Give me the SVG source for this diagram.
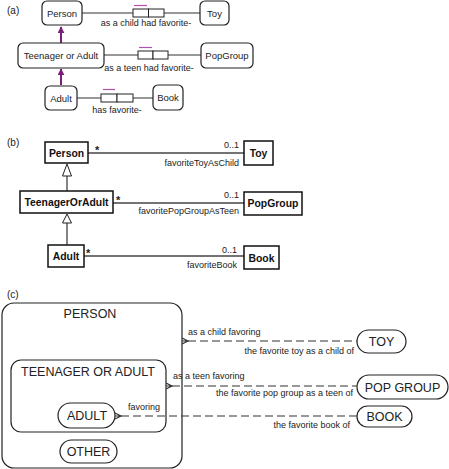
<svg xmlns="http://www.w3.org/2000/svg" width="449" height="469" viewBox="0 0 449 469">
<style>
text{font-family:"Liberation Sans",Arial,sans-serif;fill:#222}
.t9{font-size:9px}
.t95{font-size:9.5px}
.star{font-size:11px;font-weight:bold;fill:#222}
.b{font-size:10.4px;font-weight:bold;fill:#111}
.c{font-size:12.5px;fill:#222}
.ent{fill:#fff;stroke:#222;stroke-width:1.2}
.uml{fill:#fff;stroke:#111;stroke-width:1.5}
.role{fill:#fff;stroke:#222;stroke-width:1}
.ln{stroke:#333;stroke-width:1.2;fill:none}
.as{stroke:#444;stroke-width:1.6;fill:none}
.dash{stroke:#333;stroke-width:1.2;fill:none;stroke-dasharray:8 4}
.pur{stroke:#7a1f7a;stroke-width:2;fill:none}
.bar{stroke:#b050b0;stroke-width:1.2}
.mid{text-anchor:middle}
.end{text-anchor:end}
</style>
<defs>
<marker id="pa" viewBox="0 0 10 10" refX="9" refY="5" markerWidth="3.5" markerHeight="3.5" orient="auto"><path d="M0,0 L10,5 L0,10 z" fill="#7a1f7a"/></marker>
</defs>

<!-- (a) -->
<text x="7" y="14" style="font-size:10px">(a)</text>
<g id="connectors-a">
<path class="ln" d="M82,13 H133 M164,13 H200"/>
<path class="ln" d="M104,55 H138 M168,55 H201"/>
<path class="ln" d="M77,98 H101 M133,98 H153"/>
<path class="pur" d="M61,43 V27" marker-end="url(#pa)"/>
<path class="pur" d="M61,85 V69" marker-end="url(#pa)"/>
<rect class="role" x="133" y="9" width="15.5" height="8"/><rect class="role" x="148.5" y="9" width="15.5" height="8"/>
<line class="bar" x1="134" y1="5.5" x2="147" y2="5.5"/>
<text class="t9 mid" x="146" y="26">as a child had favorite-</text>
<rect class="role" x="138" y="51" width="15" height="8"/><rect class="role" x="153" y="51" width="15" height="8"/>
<line class="bar" x1="139" y1="47.5" x2="152" y2="47.5"/>
<text class="t9 mid" x="149" y="71">as a teen had favorite-</text>
<rect class="role" x="101" y="94" width="16" height="8"/><rect class="role" x="117" y="94" width="16" height="8"/>
<line class="bar" x1="103" y1="89.5" x2="115" y2="89.5"/>
<text class="t9 mid" x="117" y="113">has favorite-</text>
</g>
<g id="a-person"><rect class="ent" x="42" y="1" width="40" height="24" rx="5"/><text class="t95 mid" x="62" y="16.5">Person</text></g>
<g id="a-toy"><rect class="ent" x="200" y="1" width="29" height="24" rx="5"/><text class="t95 mid" x="214.5" y="16.5">Toy</text></g>
<g id="a-teen"><rect class="ent" x="18" y="43" width="86" height="25" rx="5"/><text class="t95 mid" x="61" y="59">Teenager or Adult</text></g>
<g id="a-popgroup"><rect class="ent" x="201" y="43" width="52" height="25" rx="5"/><text class="t95 mid" x="227" y="59">PopGroup</text></g>
<g id="a-adult"><rect class="ent" x="45" y="86" width="32" height="24" rx="5"/><text class="t95 mid" x="61" y="101.5">Adult</text></g>
<g id="a-book"><rect class="ent" x="153" y="85" width="30" height="25" rx="5"/><text class="t95 mid" x="168" y="101">Book</text></g>

<!-- (b) -->
<text x="7" y="146" style="font-size:10px">(b)</text>
<g id="connectors-b">
<path class="as" d="M88,153 H244"/>
<path class="as" d="M113,203 H244"/>
<path class="as" d="M84,256 H244"/>
<path class="ln" d="M67,176 V191 M67,223 V245"/>
<path d="M67,164 L62.5,176 H71.5 z" fill="#fff" stroke="#222" stroke-width="1"/>
<path d="M67,214 L62.5,223 H71.5 z" fill="#fff" stroke="#222" stroke-width="1"/>
<text class="star" x="95" y="154">*</text>
<text class="t9 end" x="239" y="148">0..1</text>
<text class="t9 end" x="239" y="166">favoriteToyAsChild</text>
<text class="star" x="116" y="204">*</text>
<text class="t9 end" x="239" y="198">0..1</text>
<text class="t9 end" x="239" y="214">favoritePopGroupAsTeen</text>
<text class="star" x="86" y="257">*</text>
<text class="t9 end" x="237" y="253">0..1</text>
<text class="t9 end" x="237" y="268">favoriteBook</text>
</g>
<g id="b-person"><rect class="uml" x="45" y="142" width="43" height="21"/><text class="b mid" x="66.5" y="156.5">Person</text></g>
<g id="b-toy"><rect class="uml" x="244" y="141" width="29" height="24"/><text class="b mid" x="258.5" y="156.5">Toy</text></g>
<g id="b-teen"><rect class="uml" x="20" y="191" width="93" height="22"/><text class="b mid" x="66.5" y="206">TeenagerOrAdult</text></g>
<g id="b-popgroup"><rect class="uml" x="244" y="192" width="58" height="23"/><text class="b mid" x="273" y="207">PopGroup</text></g>
<g id="b-adult"><rect class="uml" x="48" y="245" width="36" height="22"/><text class="b mid" x="66" y="260">Adult</text></g>
<g id="b-book"><rect class="uml" x="244" y="246" width="35" height="23"/><text class="b mid" x="261.5" y="261.5">Book</text></g>

<!-- (c) -->
<text x="7" y="298" style="font-size:10px">(c)</text>
<g id="c-person"><rect class="ent" x="2" y="303" width="180" height="165" rx="12"/><text class="c mid" x="90" y="318">PERSON</text></g>
<g id="c-teen"><rect class="ent" x="11" y="360" width="155" height="72" rx="10"/><text class="c mid" x="88" y="376">TEENAGER OR ADULT</text></g>
<g id="c-adult"><rect class="ent" x="58" y="403" width="57" height="25" rx="12.5"/><text class="c mid" x="87" y="420">ADULT</text></g>
<g id="c-other"><rect class="ent" x="60" y="440" width="57" height="23" rx="11.5"/><text class="c mid" x="88.5" y="456">OTHER</text></g>
<g id="c-toy"><rect class="ent" x="357" y="330" width="49" height="23" rx="11.5"/><text class="c mid" x="381.5" y="346">TOY</text></g>
<g id="c-popgroup"><rect class="ent" x="357" y="375" width="91" height="24" rx="12"/><text class="c mid" x="402.5" y="391.5">POP GROUP</text></g>
<g id="c-book"><rect class="ent" x="357" y="406" width="55" height="21" rx="10.5"/><text class="c mid" x="384.5" y="421">BOOK</text></g>
<g id="connectors-c">
<path class="dash" d="M188,341 H357"/>
<path class="ln" d="M182,341 H188 M182,338 L188,341 L182,344"/>
<path class="dash" d="M172,386 H357"/>
<path class="ln" d="M166,386 H172 M166,383 L172,386 L166,389"/>
<path class="dash" d="M121,416 H357"/>
<path class="ln" d="M115,416 H121 M115,413 L121,416 L115,419"/>
<text class="t9" x="188" y="335">as a child favoring</text>
<text class="t9 end" x="354" y="354">the favorite toy as a child of</text>
<text class="t9" x="173" y="379">as a teen favoring</text>
<text class="t9 end" x="353" y="396">the favorite pop group as a teen of</text>
<text class="t9" x="128" y="410">favoring</text>
<text class="t9 end" x="350" y="428">the favorite book of</text>
</g>
</svg>
